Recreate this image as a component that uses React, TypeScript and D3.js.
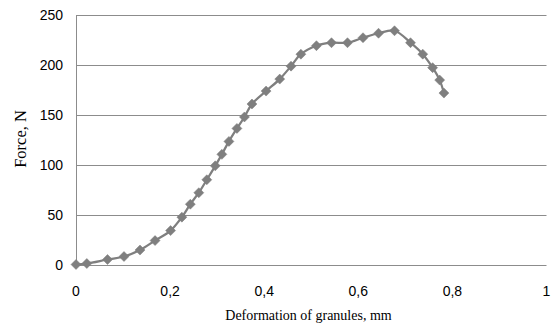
import React from "react";
import * as d3 from "d3";

const deformation = [0, 0.023, 0.067, 0.102, 0.136, 0.168, 0.201, 0.225, 0.243, 0.261, 0.278, 0.296, 0.31, 0.325, 0.342, 0.358, 0.374, 0.404, 0.433, 0.457, 0.478, 0.511, 0.543, 0.577, 0.61, 0.643, 0.677, 0.711, 0.737, 0.758, 0.773, 0.782];
const force = [0, 1, 5, 8, 14.5, 24, 34, 47.5, 60.5, 72, 85, 99, 110.5, 123.5, 136.5, 148, 161, 174, 186, 199, 211, 219.5, 222.5, 222.5, 227.5, 232, 234.5, 222.5, 211, 197.5, 185, 172];
const xTicks = [0, 0.2, 0.4, 0.6, 0.8, 1];
const yTicks = [0, 50, 100, 150, 200, 250];
const xTitle = "Deformation of granules, mm";
const yTitle = "Force, N";

export default function App() {
  const W = 551, H = 324;
  const x = d3.scaleLinear().domain([0, 1]).range([76, 546.5]);
  const y = d3.scaleLinear().domain([0, 250]).range([264.5, 15.3]);
  const pts: [number, number][] = deformation.map((d, i) => [x(d), y(force[i])]);
  const line = d3.line().curve(d3.curveCatmullRom.alpha(0.5))(pts) || "";
  const fmt = (v: number) => (v === 0 || v === 1 ? String(v) : v.toFixed(1).replace(".", ","));
  const grid = "#8c8c8c";
  const col = "#7f7f7f";
  const sans = "'Liberation Sans', Arial, sans-serif";
  const serif = "'Liberation Serif', 'Times New Roman', serif";
  return (
    <svg width={W} height={H} style={{ position: "absolute", left: 0, top: 0 }}>
      <rect width={W} height={H} fill="#fff" />
      {yTicks.map((t) => (
        <line key={t} x1={x(0)} x2={x(1)} y1={Math.round(y(t)) + 0.5} y2={Math.round(y(t)) + 0.5} stroke={grid} strokeWidth={1} />
      ))}
      <line x1={x(0) + 0.5} x2={x(0) + 0.5} y1={Math.round(y(250)) + 0.5} y2={Math.round(y(0)) + 0.5} stroke={grid} strokeWidth={1} />
      {yTicks.map((t) => (
        <text key={t} x={x(0) - 13} y={y(t) + 5} textAnchor="end" fontFamily={sans} fontSize={14} fill="#000">{t}</text>
      ))}
      {xTicks.map((t) => (
        <text key={t} x={x(t)} y={y(0) + 31} textAnchor="middle" fontFamily={sans} fontSize={14} fill="#000">{fmt(t)}</text>
      ))}
      <text x={308.5} y={y(0) + 55} textAnchor="middle" fontFamily={serif} fontSize={14} fill="#000">{xTitle}</text>
      <text transform={`translate(26,139) rotate(-90)`} textAnchor="middle" fontFamily={serif} fontSize={16.5} fill="#000">{yTitle}</text>
      <path d={line} fill="none" stroke={col} strokeWidth={2.25} />
      {pts.map(([px, py], i) => (
        <path key={i} d={`M${px},${py - 5}L${px + 5},${py}L${px},${py + 5}L${px - 5},${py}Z`} fill={col} stroke={col} strokeWidth={0.5} />
      ))}
    </svg>
  );
}
